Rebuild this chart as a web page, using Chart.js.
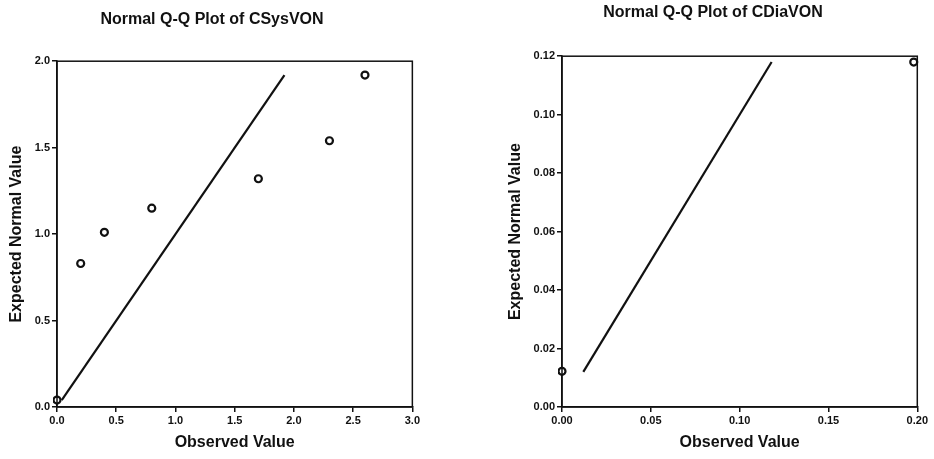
<!DOCTYPE html>
<html>
<head>
<meta charset="utf-8">
<script src="https://cdn.jsdelivr.net/npm/chart.js@4"></script>
<style>
  body { margin: 0; background: #fff; width: 934px; height: 459px; position: relative; overflow: hidden; }
  canvas { position: absolute; top: 0; }
  #sysChart { left: -2px; }
  #diaChart { left: 490px; }
</style>
</head>
<body>
<canvas id="sysChart" width="424" height="459"></canvas>
<canvas id="diaChart" width="440" height="459"></canvas>
<script>
// CSysVON
const sysObserved = [0.0, 0.2, 0.4, 0.8, 1.7, 2.3, 2.6];
const sysExpected = [0.04, 0.83, 1.01, 1.15, 1.32, 1.54, 1.92];
const sysLineEnds = [0.04, 1.92];
const sysXTicks = [0, 0.5, 1.0, 1.5, 2.0, 2.5, 3.0];
const sysYTicks = [0, 0.5, 1.0, 1.5, 2.0];

// CDiaVON
const diaObserved = [0.0, 0.198];
const diaExpected = [0.0122, 0.118];
const diaLineEnds = [0.012, 0.118];
const diaXTicks = [0, 0.05, 0.10, 0.15, 0.20];
const diaYTicks = [0, 0.02, 0.04, 0.06, 0.08, 0.10, 0.12];

const FONT = "'Liberation Sans', Arial, sans-serif";

const framePlugin = {
  id: 'frame',
  afterDatasetsDraw(chart) {
    const a = chart.chartArea, ctx = chart.ctx;
    ctx.save();
    ctx.strokeStyle = '#111';
    ctx.lineWidth = 1.5;
    ctx.strokeRect(a.left, a.top, a.right - a.left, a.bottom - a.top);
    ctx.restore();
  }
};

function axis(ticks, decimals, titleText, fitSize, isY) {
  return {
    type: 'linear',
    min: ticks[0],
    max: ticks[ticks.length - 1],
    afterBuildTicks: s => { s.ticks = ticks.map(v => ({ value: v })); },
    afterFit: s => { if (isY) s.width = fitSize; else s.height = fitSize; },
    grid: { drawOnChartArea: false, drawTicks: true, tickLength: 5, color: '#111', lineWidth: 1.5 },
    border: { display: true, color: '#111', width: 1.5 },
    ticks: {
      color: '#111',
      font: { family: FONT, size: 11, weight: 'bold' },
      padding: 2,
      maxRotation: 0,
      callback: v => Number(v).toFixed(decimals)
    },
    title: {
      display: true,
      text: titleText,
      color: '#111',
      font: { family: FONT, size: 16, weight: 'bold' },
      padding: { top: 0, bottom: 3 }
    }
  };
}

function makeChart(id, title, obs, exp, ends, xt, yt, dec, opt) {
  return new Chart(document.getElementById(id), {
    type: 'scatter',
    data: {
      datasets: [
        {
          data: ends.map(v => ({ x: v, y: v })),
          showLine: true,
          borderColor: '#111',
          borderWidth: 2.2,
          pointRadius: 0
        },
        {
          data: obs.map((v, i) => ({ x: v, y: exp[i] })),
          pointStyle: 'circle',
          pointRadius: 3.5,
          pointBorderWidth: 2.2,
          pointBorderColor: '#111',
          pointBackgroundColor: '#fff',
          clip: 4
        }
      ]
    },
    options: {
      responsive: false,
      animation: false,
      layout: { padding: opt.padding },
      plugins: {
        legend: { display: false },
        tooltip: { enabled: false },
        title: {
          display: true,
          text: title,
          color: '#111',
          font: { family: FONT, size: 16, weight: 'bold' },
          padding: opt.titlePad
        }
      },
      scales: {
        x: axis(xt, dec, 'Observed Value', 48, false),
        y: axis(yt, dec, 'Expected Normal Value', opt.yWidth, true)
      }
    },
    plugins: [framePlugin]
  });
}

makeChart('sysChart', 'Normal Q-Q Plot of CSysVON', sysObserved, sysExpected, sysLineEnds,
  sysXTicks, sysYTicks, 1,
  { padding: { left: 9, right: 5, bottom: 4, top: 0 }, titlePad: { top: 10, bottom: 32 }, yWidth: 50 });

makeChart('diaChart', 'Normal Q-Q Plot of CDiaVON', diaObserved, diaExpected, diaLineEnds,
  diaXTicks, diaYTicks, 2,
  { padding: { left: 16, right: 10, bottom: 4, top: 0 }, titlePad: { top: 3, bottom: 34 }, yWidth: 56 });
</script>
</body>
</html>
